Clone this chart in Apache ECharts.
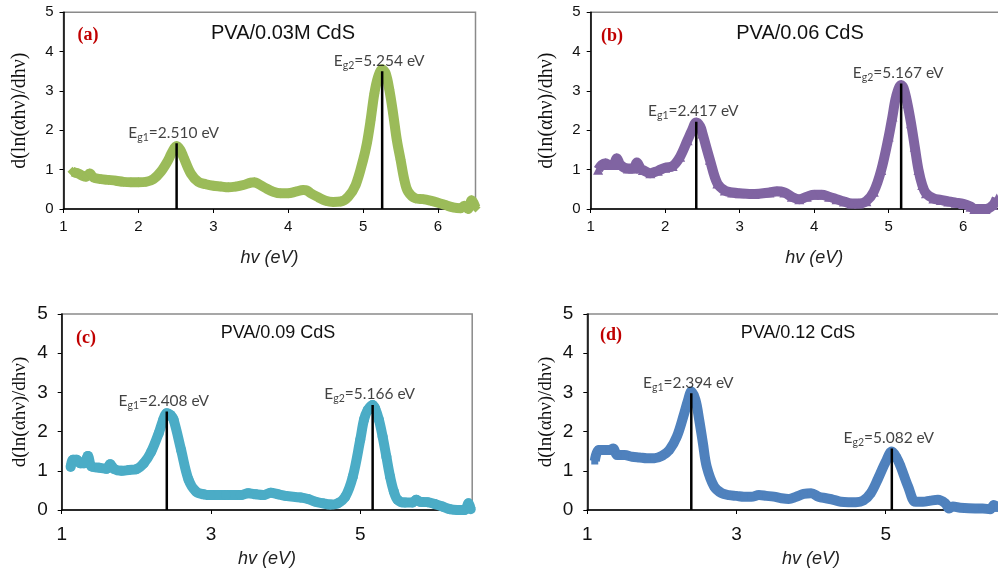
<!DOCTYPE html>
<html><head><meta charset="utf-8">
<script src="https://cdn.jsdelivr.net/npm/echarts@6/dist/echarts.min.js"></script>
<style>html,body{margin:0;padding:0;background:#fff}#c{width:998px;height:572px}</style>
</head><body><div id="c"></div><script>
// ---- data ----
const hvA = [1.12,1.15,1.2,1.25,1.3,1.35,1.4,1.5,1.6,1.7,1.8,1.9,2.0,2.1,2.2,2.3,2.4,2.45,2.51,2.56,2.6,2.7,2.8,2.9,3.0,3.1,3.2,3.3,3.4,3.5,3.55,3.6,3.7,3.8,3.9,4.0,4.1,4.2,4.25,4.3,4.4,4.5,4.6,4.7,4.8,4.9,5.0,5.05,5.1,5.15,5.2,5.254,5.3,5.35,5.4,5.45,5.5,5.55,5.6,5.7,5.8,5.9,6.0,6.1,6.2,6.3,6.35,6.4,6.45,6.5];
const dA  = [0.95,0.93,0.9,0.85,0.82,0.9,0.8,0.76,0.74,0.72,0.69,0.68,0.68,0.69,0.76,0.95,1.25,1.45,1.6,1.5,1.33,0.9,0.69,0.63,0.59,0.57,0.55,0.57,0.61,0.67,0.68,0.64,0.53,0.44,0.4,0.4,0.44,0.48,0.47,0.4,0.3,0.21,0.18,0.19,0.31,0.61,1.25,1.67,2.26,2.94,3.36,3.55,3.45,3.03,2.43,1.75,1.25,0.74,0.44,0.27,0.25,0.21,0.16,0.1,0.04,0.02,0.08,0.0,0.22,0.04];

const hvB = [1.1,1.15,1.2,1.25,1.3,1.35,1.4,1.5,1.57,1.62,1.67,1.7,1.8,1.9,2.0,2.1,2.2,2.3,2.36,2.417,2.47,2.5,2.6,2.7,2.8,2.9,3.0,3.2,3.4,3.5,3.6,3.7,3.8,3.9,4.0,4.1,4.2,4.3,4.4,4.5,4.6,4.7,4.8,4.9,5.0,5.05,5.1,5.167,5.2,5.25,5.3,5.35,5.4,5.45,5.5,5.6,5.7,5.8,5.9,6.0,6.1,6.15,6.2,6.3,6.4,6.45];
const dB  = [1.0,1.12,1.16,1.12,1.12,1.29,1.12,1.03,1.03,1.18,1.03,0.99,0.91,0.97,1.05,1.09,1.33,1.75,2.0,2.2,2.1,1.92,1.25,0.65,0.47,0.42,0.40,0.38,0.42,0.45,0.42,0.31,0.25,0.31,0.36,0.36,0.31,0.25,0.19,0.14,0.14,0.2,0.44,0.99,1.84,2.35,2.86,3.15,3.07,2.69,2.18,1.58,0.99,0.61,0.40,0.27,0.23,0.19,0.16,0.13,0.06,0.0,0.0,0.0,0.1,0.27];

const hvC = [1.12,1.15,1.2,1.25,1.3,1.35,1.4,1.5,1.6,1.65,1.7,1.8,1.9,2.0,2.1,2.2,2.3,2.36,2.408,2.46,2.5,2.6,2.7,2.8,2.9,3.0,3.2,3.4,3.5,3.6,3.7,3.8,3.9,4.0,4.2,4.3,4.4,4.5,4.6,4.7,4.8,4.9,5.0,5.05,5.1,5.166,5.2,5.25,5.3,5.35,5.4,5.45,5.5,5.6,5.7,5.75,5.8,5.9,6.0,6.1,6.2,6.3,6.4,6.45,6.48];
const dC  = [1.1,1.28,1.28,1.19,1.19,1.38,1.11,1.08,1.05,1.17,1.05,1.0,1.02,1.04,1.19,1.49,1.96,2.3,2.47,2.42,2.3,1.53,0.77,0.47,0.40,0.38,0.38,0.38,0.43,0.40,0.38,0.44,0.40,0.36,0.32,0.28,0.21,0.17,0.14,0.17,0.34,0.85,1.79,2.3,2.55,2.68,2.59,2.3,1.87,1.36,0.85,0.47,0.26,0.19,0.19,0.26,0.21,0.2,0.15,0.09,0.02,0.0,0.0,0.17,0.02];

const hvD = [1.1,1.15,1.2,1.3,1.35,1.4,1.5,1.6,1.7,1.8,1.9,2.0,2.1,2.2,2.3,2.35,2.394,2.45,2.5,2.55,2.6,2.7,2.8,2.9,3.0,3.1,3.2,3.3,3.4,3.5,3.6,3.7,3.8,3.9,4.0,4.1,4.2,4.3,4.4,4.5,4.6,4.7,4.8,4.9,5.0,5.082,5.15,5.2,5.3,5.4,5.5,5.6,5.7,5.8,5.85,5.9,6.0,6.2,6.3,6.4,6.45,6.5];
const dD  = [1.25,1.53,1.53,1.53,1.57,1.40,1.40,1.36,1.34,1.32,1.32,1.38,1.53,1.87,2.47,2.8,3.02,2.81,2.30,1.70,1.11,0.60,0.43,0.38,0.36,0.34,0.34,0.38,0.36,0.34,0.30,0.28,0.34,0.41,0.43,0.34,0.30,0.26,0.21,0.20,0.20,0.24,0.43,0.81,1.23,1.49,1.32,1.11,0.60,0.21,0.21,0.24,0.26,0.17,0.04,0.09,0.06,0.04,0.04,0.02,0.13,0.04];

// band-gap markers: energy, height of the vertical line
const egA = [2.510, 5.254], egTopA = [1.67, 3.50];
const egB = [2.417, 5.167], egTopB = [2.22, 3.19];
const egC = [2.408, 5.166], egTopC = [2.51, 2.68];
const egD = [2.394, 5.082], egTopD = [2.98, 1.57];

const titles = ['PVA/0.03M CdS', 'PVA/0.06 CdS', 'PVA/0.09 CdS', 'PVA/0.12 CdS'];
const letters = ['(a)', '(b)', '(c)', '(d)'];
const xTicksTop = [1, 2, 3, 4, 5, 6];
const xTicksBottom = [1, 3, 5];
const yTicks = [0, 1, 2, 3, 4, 5];

// ---- layout / style ----
const panels = [
  {hv: hvA, d: dA, eg: egA, top: egTopA, color: '#9bbb59', symbol: 'diamond', size: 10,
   grid: {left: 63.5, top: 12.3, width: 412, height: 196.7}, max: 6.5, ticks: xTicksTop, fs: 15, xMargin: 10, yMargin: 10, nameFs: 20,
   title: {x: 283, y: 33, fs: 20}, letter: {x: 88, y: 35}, nameGapX: 40, nameGapY: 34},
  {hv: hvB, d: dB, eg: egB, top: egTopB, color: '#8064a2', symbol: 'triangle', size: 10,
   grid: {left: 590.7, top: 12.3, width: 447, height: 196.7}, max: 7, ticks: xTicksTop, fs: 15, xMargin: 10, yMargin: 10, nameFs: 20,
   title: {x: 800, y: 33, fs: 20}, letter: {x: 612, y: 36}, nameGapX: 40, nameGapY: 34},
  {hv: hvC, d: dC, eg: egC, top: egTopC, color: '#4bacc6', symbol: 'circle', size: 10,
   grid: {left: 61.7, top: 314, width: 410.5, height: 196}, max: 6.5, ticks: xTicksBottom, fs: 19, xMargin: 15, yMargin: 14, nameFs: 19,
   title: {x: 278, y: 333, fs: 18}, letter: {x: 86, y: 338}, nameGapX: 40, nameGapY: 32},
  {hv: hvD, d: dD, eg: egD, top: egTopD, color: '#4f81bd', symbol: 'rect', size: 7,
   grid: {left: 587.3, top: 314, width: 447.6, height: 196}, max: 7, ticks: xTicksBottom, fs: 19, xMargin: 15, yMargin: 14, nameFs: 19,
   title: {x: 798, y: 333, fs: 18}, letter: {x: 611, y: 335}, nameGapX: 40, nameGapY: 32}
];

const grids = [], xAxes = [], yAxes = [], series = [], graphics = [];
panels.forEach((p, i) => {
  grids.push(Object.assign({show: true, borderColor: '#8a8a8a', borderWidth: 1.5, backgroundColor: '#fff',
    outerBoundsMode: 'none', containLabel: false}, p.grid));
  xAxes.push({
    type: 'value', gridIndex: i, min: 1, max: p.max,
    name: 'hv (eV)', nameLocation: 'middle', nameGap: p.nameGapX,
    nameTextStyle: {fontFamily: 'Liberation Sans', fontStyle: 'italic', fontSize: 18, color: '#222'},
    axisLine: {show: true, onZero: false, lineStyle: {color: '#000', width: 1.5}},
    axisTick: {show: true, length: 4, customValues: p.ticks, lineStyle: {color: '#000'}},
    axisLabel: {customValues: p.ticks, fontFamily: 'Liberation Sans', fontSize: p.fs, color: '#111', margin: p.xMargin},
    splitLine: {show: false}
  });
  yAxes.push({
    type: 'value', gridIndex: i, min: 0, max: 5, interval: 1,
    name: 'd(ln(αhν)/dhν)', nameLocation: 'middle', nameGap: p.nameGapY, nameRotate: 90,
    nameTextStyle: {fontFamily: 'Liberation Serif', fontSize: p.nameFs, color: '#111'},
    axisLine: {show: true, lineStyle: {color: '#000', width: 1.5}},
    axisTick: {show: true, length: 4, lineStyle: {color: '#000'}},
    axisLabel: {fontFamily: 'Liberation Sans', fontSize: p.fs, color: '#111', margin: p.yMargin},
    splitLine: {show: false}
  });
  series.push({
    type: 'line', xAxisIndex: i, yAxisIndex: i,
    data: p.hv.map((x, k) => [x, p.d[k]]),
    smooth: 0.35, clip: false,
    symbol: p.symbol, symbolSize: p.size, showSymbol: true,
    itemStyle: {color: p.color}, lineStyle: {color: p.color, width: 10},
    z: 2
  });
  p.eg.forEach((e, k) => {
    series.push({
      type: 'line', xAxisIndex: i, yAxisIndex: i, symbol: 'none',
      data: [[e, 0], [e, p.top[k]]],
      lineStyle: {color: '#000', width: 2.5}, z: 5
    });
    series.push({
      type: 'scatter', xAxisIndex: i, yAxisIndex: i, symbolSize: 1,
      itemStyle: {color: 'rgba(0,0,0,0)'}, z: 6,
      data: [{value: [e, p.top[k]]}],
      label: {
        show: true, position: 'top', distance: 0, offset: [-3, 0],
        formatter: '{m|E}{s|g' + (k + 1) + '}{m|=' + e.toFixed(3) + ' eV}',
        rich: {
          m: {fontFamily: 'Lato', fontSize: 15.5, color: '#111', lineHeight: 20},
          s: {fontFamily: 'Lato', fontSize: 10.5, color: '#111', lineHeight: 12, verticalAlign: 'bottom'}
        }
      }
    });
  });
  graphics.push({type: 'text', x: p.title.x, y: p.title.y, z: 10,
    style: {text: titles[i], fill: '#111', font: p.title.fs + 'px "Liberation Sans"', align: 'center', verticalAlign: 'middle'}});
  graphics.push({type: 'text', x: p.letter.x, y: p.letter.y, z: 10,
    style: {text: letters[i], fill: '#c00000', font: 'bold 18px "Liberation Serif"', align: 'center', verticalAlign: 'middle'}});
});

const chart = echarts.init(document.getElementById('c'));
chart.setOption({animation: false, backgroundColor: '#fff', grid: grids, xAxis: xAxes, yAxis: yAxes, series: series, graphic: graphics});
</script></body></html>
